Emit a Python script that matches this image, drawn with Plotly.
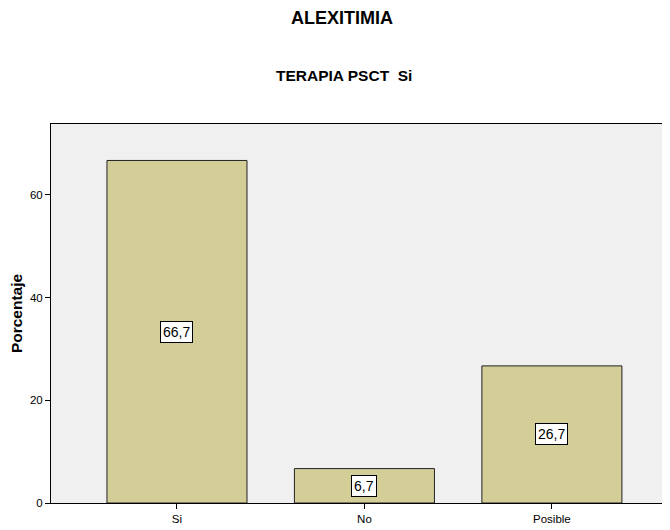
import plotly.graph_objects as go

categories = ["Si", "No", "Posible"]
values = [66.7, 6.7, 26.7]
labels = ["66,7", "6,7", "26,7"]
y_ticks = [0, 20, 40, 60]

FONT = "Liberation Sans, Arial, sans-serif"

fig = go.Figure()
fig.add_trace(go.Bar(
    x=categories, y=values,
    marker=dict(color="#d3ce98", line=dict(color="#222222", width=1)),
    width=0.747, hoverinfo="skip",
))

for c, v, t in zip(categories, values, labels):
    fig.add_annotation(
        x=c, y=v / 2, text=t, showarrow=False,
        font=dict(family=FONT, size=14, color="black"),
        bgcolor="white", bordercolor="black", borderwidth=1, borderpad=2,
    )

fig.add_annotation(x=0.5, y=1, xref="paper", yref="paper", yanchor="middle",
                   yshift=106, xshift=-19, text="<b>ALEXITIMIA</b>", showarrow=False,
                   font=dict(family=FONT, size=18, color="black"))
fig.add_annotation(x=0.5, y=1, xref="paper", yref="paper", yanchor="middle",
                   yshift=49, xshift=-17, text="<b>TERAPIA PSCT&nbsp; Si</b>", showarrow=False,
                   font=dict(family=FONT, size=15.5, color="black"))

# page body has an 8px default margin; compensate so the plot lands where the reference has it
fig.update_layout(
    width=662, height=522,
    margin=dict(l=43, r=0, t=116, b=27),
    paper_bgcolor="white", plot_bgcolor="#f0f0f0",
    showlegend=False,
    font=dict(family=FONT, size=11.5, color="black"),
)
fig.update_xaxes(
    range=[-0.672, 2.63], showline=True, linecolor="black", linewidth=1,
    mirror=True, ticks="outside", ticklen=5, tickcolor="black",
    showgrid=False, zeroline=False, tickfont=dict(size=11.5),
)
fig.update_yaxes(
    range=[0, 73.8], tickvals=y_ticks, showline=True, linecolor="black",
    linewidth=1, ticks="outside", ticklen=5, tickcolor="black",
    showgrid=False, zeroline=False, tickfont=dict(size=11.5),
    title=dict(text="<b>Porcentaje</b>", font=dict(size=15.5), standoff=3),
)

fig.write_html("out.html")
